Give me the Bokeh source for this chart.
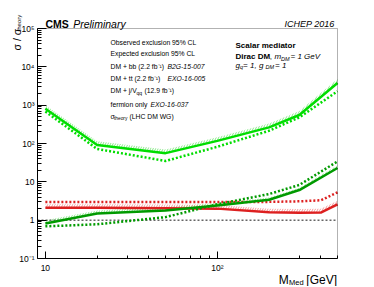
import math
from bokeh.plotting import figure
from bokeh.models import (Label, Legend, LegendItem, FixedTicker, CustomJSTickFormatter,
                          BoxAnnotation, Range1d)
from bokeh.embed import file_html
from bokeh.resources import INLINE

# ---------------- data ----------------
bb_mass = [10, 20, 50, 100, 200, 300, 500]
bb_obs = [810, 91, 56, 117, 263, 555, 3800]
bb_exp = [680, 72, 35, 82, 215, 480, 2300]
bb_band = [1000, 115, 70, 145, 330, 700, 4800]

tt_mass = [10, 20, 50, 100, 200, 300, 500]
tt_obs = [0.82, 1.5, 1.8, 2.4, 3.4, 6.1, 23]
tt_exp = [0.69, 0.78, 1.2, 2.6, 4.8, 8.3, 34]
tt_band = [1.0, 1.8, 2.2, 2.8, 3.9, 7.0, 27]

jv_mass = [10, 20, 50, 100, 200, 300, 400, 500]
jv_obs = [2.1, 2.1, 2.05, 2.0, 1.6, 1.55, 1.58, 2.6]
jv_exp = [3.0, 3.0, 3.0, 3.0, 3.0, 3.1, 3.3, 5.3]
jv_band = [2.6, 2.6, 2.55, 2.5, 2.0, 1.95, 2.0, 3.2]

theory_mass = [9, 500]
theory_ratio = [1.0, 1.0]

x_major = [10, 100]
y_major = [0.1, 1, 10, 100, 1e3, 1e4, 1e5]

# ---------------- layout (pixels) ----------------
W, H = 370, 286                 # canvas
BOX_L, BOX_R = 37, 337          # plot box in canvas px
BOX_T, BOX_B = 28, 258
X0, X1 = 9, 500                 # axis limits
Y0, Y1 = 0.1, 1e5

xdec = (BOX_R - BOX_L) / (math.log10(X1) - math.log10(X0))
ydec = (BOX_B - BOX_T) / (math.log10(Y1) - math.log10(Y0))
xr = Range1d(10 ** (math.log10(X0) - BOX_L / xdec), 10 ** (math.log10(X1) + (W - BOX_R) / xdec))
yr = Range1d(10 ** (math.log10(Y0) - (H - BOX_B) / ydec), 10 ** (math.log10(Y1) + BOX_T / ydec))

FONT = "Liberation Sans"
C_BB = "#00dd00"
C_TT = "#009a00"
C_JV = "#dd2020"
H_BB = "#6fe36f"
H_JV = "#f08080"

p = figure(width=W, height=H, x_axis_type="log", y_axis_type="log",
           x_range=xr, y_range=yr, output_backend="svg", toolbar_location=None,
           min_border=0)
p.grid.visible = False
p.outline_line_color = None
p.background_fill_color = "white"
p.border_fill_color = "white"

fmt = CustomJSTickFormatter(code="""
const e = Math.round(Math.log10(tick));
if (e === 0) return '1';
if (e === 1) return '10';
const sup = {'-':'\u207b','0':'\u2070','1':'\u00b9','2':'\u00b2','3':'\u00b3','4':'\u2074','5':'\u2075','6':'\u2076','7':'\u2077','8':'\u2078','9':'\u2079'};
return '10' + String(e).split('').map(c => sup[c]).join('');
""")

x_minor = [k * d for d in (1, 10, 100) for k in range(2, 10) if X0 < k * d <= X1]
y_minor = [k * 10.0 ** e for e in range(-1, 5) for k in range(2, 10)]
p.xaxis.ticker = FixedTicker(ticks=x_major, minor_ticks=x_minor)
p.yaxis.ticker = FixedTicker(ticks=y_major, minor_ticks=y_minor)
p.xaxis.fixed_location = Y0
p.yaxis.fixed_location = X0
p.xaxis.bounds = (X0, X1)
p.yaxis.bounds = (Y0, Y1)
for ax in (p.xaxis[0], p.yaxis[0]):
    ax.formatter = fmt
    ax.major_tick_out = 0
    ax.minor_tick_out = 0
    ax.axis_line_color = "black"
    ax.major_tick_line_color = "black"
    ax.minor_tick_line_color = "black"
    ax.major_label_text_font = FONT
    ax.major_label_text_font_size = "8.5px"
    ax.major_label_text_color = "black"
p.yaxis.major_tick_in = 9
p.yaxis.minor_tick_in = 4
p.xaxis.major_tick_in = 7
p.xaxis.minor_tick_in = 3
p.yaxis.major_label_standoff = 3
p.xaxis.major_label_standoff = 4

# plot box
p.add_layout(BoxAnnotation(left=X0, right=X1, bottom=Y0, top=Y1, fill_alpha=0,
                           line_color="black", line_width=1, level="overlay"))

# ---------------- bands (hatched) ----------------
p.varea(x=bb_mass, y1=bb_obs, y2=bb_band, fill_color=None,
        hatch_pattern="/", hatch_color=H_BB, hatch_weight=0.8, hatch_scale=5)
p.varea(x=tt_mass, y1=tt_obs, y2=tt_band, fill_color=None,
        hatch_pattern="/", hatch_color=H_BB, hatch_weight=0.8, hatch_scale=5)
p.varea(x=jv_mass, y1=jv_obs, y2=jv_band, fill_color=None,
        hatch_pattern="/", hatch_color=H_JV, hatch_weight=0.8, hatch_scale=5)

# theory line
p.line(theory_mass, theory_ratio, line_color="#666666", line_dash="2 2", line_width=1.5)

# ---------------- lines ----------------
p.line(jv_mass, jv_exp, line_color=C_JV, line_width=2.5, line_dash="2 2")
p.line(jv_mass, jv_obs, line_color=C_JV, line_width=2.5)
p.line(tt_mass, tt_exp, line_color=C_TT, line_width=2.5, line_dash="2 2")
p.line(tt_mass, tt_obs, line_color=C_TT, line_width=2.5)
p.line(bb_mass, bb_exp, line_color=C_BB, line_width=2.5, line_dash="2 2")
p.line(bb_mass, bb_obs, line_color=C_BB, line_width=2.5)

# ---------------- legend glyphs ----------------
def hatch_r(color):
    return p.varea(x=[], y1=[], y2=[], fill_color=None, hatch_pattern="/",
                   hatch_color=color, hatch_weight=0.8, hatch_scale=5)

r_obs = [hatch_r("#cccccc"), p.line([], [], line_color="#bbbbbb", line_width=2.5)]
r_exp = [p.line([], [], line_color="#bbbbbb", line_width=2.5, line_dash="2 2")]
r_bb = [hatch_r(H_BB), p.line([], [], line_color=C_BB, line_width=2.5)]
r_tt = [hatch_r(H_BB), p.line([], [], line_color=C_TT, line_width=2.5)]
r_jv = [hatch_r(H_JV), p.line([], [], line_color=C_JV, line_width=2.5)]
r_fo = [p.scatter([], [], size=2, color="#999999")]
r_th = [p.line([], [], line_color="black", line_width=1.5, line_dash="1 1")]

LEG_TOP = 36
legend = Legend(items=[LegendItem(label=" ", renderers=r) for r in
                       (r_obs, r_exp, r_bb, r_tt, r_jv, r_fo, r_th)],
                location=(83, H - (LEG_TOP + 7 * 12)), glyph_width=22, glyph_height=12,
                label_height=12, label_width=1, spacing=0, padding=0, margin=0,
                label_standoff=0, label_text_font_size="1px",
                border_line_color=None, background_fill_alpha=0)
p.add_layout(legend)

# ---------------- text ----------------
def txt(px, py, s, size, style="normal", align="left", baseline="alphabetic",
        angle=0.0, color="black"):
    # px, py: canvas coordinates from the top-left corner
    p.add_layout(Label(x=px, y=H - py, x_units="screen", y_units="screen",
                       text=s, text_font=FONT, text_font_size=f"{size}px",
                       text_font_style=style, text_align=align,
                       text_baseline=baseline, angle=angle, text_color=color))

txt(45, 23.5, "CMS", 10.5, "bold")
txt(72.7, 23.5, "Preliminary", 10.5, "italic")
txt(334, 23, "ICHEP 2016", 9, "italic", align="right")

txt(235, 44.5, "Scalar mediator", 8, "bold")
txt(235, 56, "Dirac DM", 8, "bold")
txt(269.3, 56, ",", 8)
txt(274, 56, "m", 8, "italic")
txt(280.5, 58, "DM", 5.5, "italic")
txt(290, 56, " = 1 GeV", 8, "italic")
txt(235, 64.5, "g", 8, "italic")
txt(239.5, 66.5, "q", 5.5, "italic")
txt(242.6, 64.5, " = 1, g", 8, "italic")
txt(265.1, 66.5, "DM", 5.5, "italic")
txt(274.5, 64.5, " = 1", 8, "italic")

# legend text
L = 110
LS = 6.8
txt(L, 41.7, "Observed exclusion 95% CL", LS, baseline="middle")
txt(L, 53.3, "Expected exclusion 95% CL", LS, baseline="middle")
txt(L, 66, "DM + bb (2.2 fb\u207b\u00b9)", LS, baseline="middle")
txt(167, 66, "B2G-15-007", LS, "italic", baseline="middle")
txt(L, 78, "DM + tt (2.2 fb\u207b\u00b9)", LS, baseline="middle")
txt(167, 78, "EXO-16-005", LS, "italic", baseline="middle")
txt(L, 90, "DM + j/V", LS, baseline="middle")
txt(136, 92.5, "qq", 5, baseline="middle")
txt(144, 90, "(12.9 fb\u207b\u00b9)", LS, baseline="middle")
txt(L, 103.5, "fermion only", LS, baseline="middle")
txt(150, 103.5, "EXO-16-037", LS, "italic", baseline="middle")
txt(L, 116, "\u03c3", LS, baseline="middle")
txt(113.5, 118, "theory", 4.8, baseline="middle")
txt(129, 116, "(LHC DM WG)", LS, baseline="middle")

# axis titles
txt(336.5, 279.3, "[GeV]", 12, align="right")
txt(288.6, 282.3, "Med", 7.5)
txt(278.3, 279.3, "M", 12)
half_pi = math.pi / 2
txt(16.5, 50, "\u03c3 / \u03c3", 10.5, angle=half_pi)
txt(18.5, 31, "theory", 6, angle=half_pi)

with open("out.html", "w", encoding="utf-8") as f:
    f.write(file_html(p, INLINE))
